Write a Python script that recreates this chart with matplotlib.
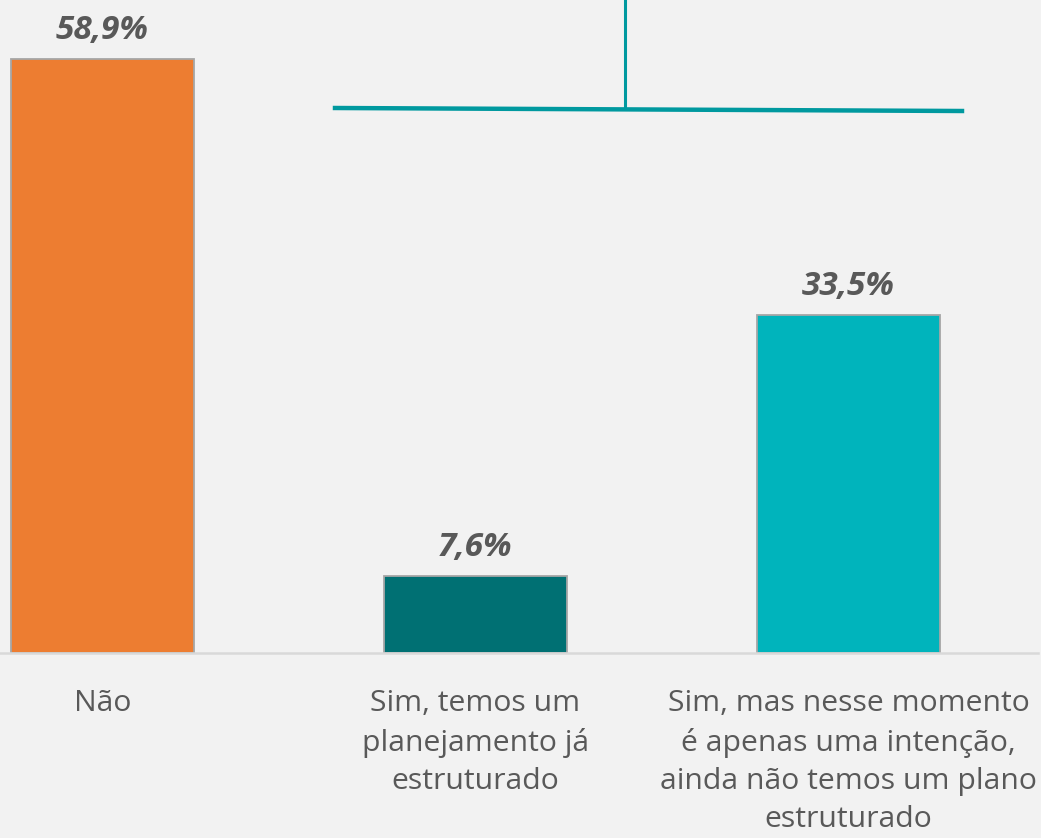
import matplotlib.pyplot as plt
from matplotlib.lines import Line2D

categories = ["Não",
              "Sim, temos um\nplanejamento já\nestruturado",
              "Sim, mas nesse momento\né apenas uma intenção,\nainda não temos um plano\nestruturado"]
values = [58.9, 7.6, 33.5]
value_labels = ["58,9%", "7,6%", "33,5%"]
colors = ["#ED7D31", "#007073", "#00B4BC"]

bg = "#F2F2F2"
W, H = 1041, 838

plt.rcParams['font.family'] = ['Open Sans', 'DejaVu Sans']

fig = plt.figure(figsize=(W / 100, H / 100), dpi=100, facecolor=bg)
ax = fig.add_axes([0, (H - 653) / H, 1, 653 / H])
ax.set_facecolor(bg)

x = list(range(len(categories)))
ax.bar(x, values, width=0.49, color=colors, edgecolor="#A6A6A6", linewidth=1.3, zorder=2)

for xi, v, lab in zip(x, values, value_labels):
    ax.annotate(lab, (xi, v), xytext=(0, 9), textcoords="offset points",
                ha="center", va="bottom", fontsize=24, fontweight="bold",
                fontstyle="italic", color="#595959")

ax.set_xlim((0 - 102.5) / 373, (W - 102.5) / 373)
ax.set_ylim(0, 653 / 10.08)

ax.set_xticks(x)
ax.set_xticklabels(categories, fontsize=21.7, color="#595959", linespacing=1.42)
ax.tick_params(axis="x", length=0, pad=26)
ax.set_yticks([])
for s in ["top", "right", "left"]:
    ax.spines[s].set_visible(False)
ax.spines["bottom"].set_color("#D9D9D9")
ax.spines["bottom"].set_linewidth(1.8)
ax.spines["bottom"].set_bounds(ax.get_xlim()[0], (1038 - 102.5) / 373)

# bracket above the two "Sim" bars
teal = "#00999F"
fig.add_artist(Line2D([335 / W, 962 / W], [1 - 108 / H, 1 - 111 / H],
                      color=teal, linewidth=3.2, transform=fig.transFigure))
fig.add_artist(Line2D([625 / W, 625 / W], [1.0, 1 - 108 / H],
                      color=teal, linewidth=2.2, transform=fig.transFigure))

fig.savefig("out.png", dpi=100, facecolor=bg)
